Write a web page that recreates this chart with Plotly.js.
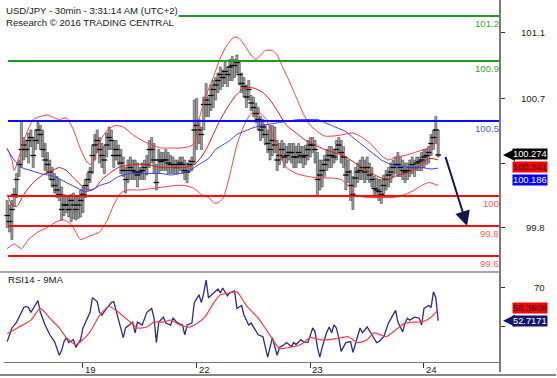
<!DOCTYPE html>
<html><head><meta charset="utf-8">
<script src="https://cdn.plot.ly/plotly-3.0.1.min.js"></script>
<style>html,body{margin:0;padding:0;background:#fff;}#chart{width:557px;height:378px;}</style>
</head><body><div id="chart"></div>
<script>
// ---- 30-min bars (bar index 0 = 18th 08:00) ----
const high = [99.97,99.94,99.97,100.05,100.15,100.24,100.50,100.39,100.37,100.42,
100.44,100.39,100.44,100.49,100.47,100.44,100.35,100.29,100.24,100.19,
100.15,100.13,100.11,100.06,100.01,99.99,99.99,100.01,100.02,99.99,
99.99,100.04,100.06,100.11,100.15,100.19,100.34,100.41,100.44,100.39,
100.35,100.33,100.42,100.46,100.44,100.37,100.37,100.34,100.31,100.26,
100.19,100.24,100.26,100.24,100.24,100.22,100.19,100.22,100.24,100.27,
100.37,100.39,100.35,100.21,100.31,100.29,100.29,100.31,100.29,100.27,
100.26,100.24,100.24,100.26,100.26,100.24,100.22,100.24,100.26,100.64,
100.65,100.51,100.46,100.66,100.75,100.66,100.74,100.77,100.79,100.82,
100.86,100.84,100.89,100.86,100.91,100.93,100.91,100.94,100.89,100.82,
100.79,100.74,100.77,100.67,100.66,100.62,100.59,100.53,100.51,100.47,
100.44,100.47,100.47,100.46,100.37,100.35,100.37,100.35,100.33,100.35,
100.35,100.35,100.33,100.35,100.33,100.33,100.34,100.37,100.39,100.39,
100.37,100.29,100.24,100.24,100.27,100.31,100.33,100.33,100.31,100.37,
100.39,100.37,100.33,100.26,100.24,100.17,100.13,100.19,100.22,100.24,
100.26,100.24,100.26,100.22,100.19,100.13,100.12,100.11,100.11,100.14,
100.17,100.19,100.22,100.24,100.26,100.29,100.26,100.24,100.22,100.22,
100.24,100.26,100.24,100.26,100.26,100.29,100.31,100.31,100.33,100.41,
100.44,100.53,100.44];
const low = [99.79,99.76,99.71,99.93,99.99,100.13,100.19,100.24,100.26,100.22,
100.33,100.19,100.31,100.35,100.31,100.26,100.17,100.15,100.11,100.06,
100.02,99.99,99.97,99.84,99.87,99.89,99.86,99.83,99.85,99.84,
99.85,99.86,99.89,99.99,100.04,100.09,100.15,100.24,100.29,100.22,
100.19,100.15,100.26,100.31,100.31,100.19,100.24,100.21,100.15,100.13,
100.02,100.09,100.11,100.11,100.11,100.06,100.11,100.11,100.11,100.14,
100.19,100.22,100.15,100.04,100.15,100.17,100.17,100.17,100.15,100.15,
100.15,100.15,100.15,100.17,100.15,100.11,100.09,100.16,100.17,100.21,
100.31,100.35,100.31,100.44,100.53,100.53,100.57,100.59,100.64,100.69,
100.71,100.73,100.75,100.73,100.77,100.77,100.79,100.82,100.74,100.69,
100.66,100.59,100.64,100.57,100.53,100.49,100.44,100.37,100.39,100.34,
100.29,100.24,100.27,100.29,100.17,100.21,100.24,100.19,100.22,100.24,
100.22,100.19,100.19,100.22,100.22,100.19,100.21,100.24,100.26,100.29,
100.22,100.01,100.04,100.06,100.13,100.17,100.19,100.19,100.22,100.24,
100.29,100.22,100.19,100.04,100.09,99.97,99.91,100.06,100.09,100.11,
100.11,100.09,100.11,100.09,100.06,99.99,99.99,99.97,99.95,100.01,
100.04,100.06,100.09,100.13,100.15,100.13,100.13,100.11,100.09,100.11,
100.13,100.15,100.13,100.17,100.17,100.17,100.19,100.21,100.22,100.27,
100.31,100.35,100.26];
const close = [99.87,99.83,99.91,100.01,100.11,100.21,100.31,100.34,100.31,100.37,
100.39,100.27,100.37,100.44,100.41,100.31,100.24,100.21,100.16,100.11,
100.07,100.04,100.01,99.91,99.94,99.94,99.91,99.97,99.94,99.91,
99.94,99.97,100.01,100.07,100.11,100.16,100.27,100.34,100.37,100.31,
100.27,100.24,100.34,100.39,100.37,100.27,100.31,100.27,100.22,100.17,
100.11,100.17,100.19,100.17,100.16,100.14,100.16,100.17,100.19,100.21,
100.31,100.31,100.24,100.09,100.24,100.23,100.24,100.24,100.22,100.21,
100.21,100.19,100.21,100.22,100.21,100.17,100.16,100.21,100.23,100.44,
100.47,100.44,100.41,100.61,100.64,100.61,100.67,100.71,100.74,100.77,
100.81,100.79,100.83,100.81,100.86,100.87,100.87,100.89,100.81,100.75,
100.73,100.66,100.71,100.62,100.59,100.55,100.51,100.44,100.46,100.41,
100.35,100.31,100.37,100.34,100.24,100.27,100.31,100.26,100.27,100.29,
100.29,100.26,100.26,100.29,100.27,100.26,100.27,100.31,100.34,100.34,
100.31,100.11,100.14,100.17,100.21,100.24,100.27,100.27,100.26,100.31,
100.34,100.29,100.26,100.14,100.16,100.07,100.01,100.12,100.16,100.17,
100.19,100.16,100.19,100.14,100.11,100.05,100.04,100.03,100.01,100.07,
100.11,100.14,100.16,100.19,100.21,100.21,100.19,100.17,100.16,100.17,
100.19,100.21,100.19,100.22,100.23,100.24,100.26,100.27,100.29,100.35,
100.39,100.44,100.274];

// ---- Bollinger bands and moving average (read at sampled bars) ----
const upperIdx = [0,2,3,4,6,8,11,14,17,20,22,25,28,31,34,36,38,40,43,46,49,53,57,61,65,69,73,77,79,81,84,87,90,93,96,98,100,103,105,107,109,112,114,116,119,122,125,128,131,134,138,142,146,150,154,158,161,164,168,172,176,179,182];
const upperVal = [100.32,100.24,100.17,100.21,100.31,100.41,100.51,100.53,100.54,100.52,100.51,100.52,100.44,100.31,100.22,100.21,100.31,100.39,100.45,100.47,100.46,100.41,100.37,100.34,100.32,100.32,100.32,100.33,100.35,100.51,100.67,100.79,100.92,101.01,101.06,101.05,101.01,100.94,100.91,100.94,100.97,100.97,100.94,100.87,100.77,100.66,100.55,100.47,100.43,100.40,100.40,100.41,100.42,100.39,100.34,100.27,100.24,100.26,100.27,100.29,100.31,100.33,100.39];
const midIdx = [0,2,4,7,11,15,19,22,25,28,32,34,37,40,44,47,53,59,65,70,75,79,81,84,87,90,93,96,100,104,108,111,114,118,122,126,130,134,138,142,146,150,154,158,161,165,170,174,178,182];
const midVal = [100.01,99.94,99.93,100.01,100.09,100.14,100.17,100.19,100.17,100.12,100.06,100.04,100.05,100.11,100.16,100.19,100.21,100.21,100.19,100.19,100.19,100.21,100.24,100.31,100.41,100.51,100.59,100.66,100.72,100.72,100.69,100.64,100.57,100.47,100.42,100.37,100.34,100.31,100.29,100.27,100.23,100.19,100.15,100.12,100.11,100.14,100.16,100.20,100.25,100.241];
const lowerIdx = [0,3,6,9,13,17,21,24,27,31,33,36,39,42,45,48,51,56,61,66,71,75,79,82,85,88,91,94,97,100,103,106,109,112,115,118,122,127,132,137,141,144,147,152,158,163,168,172,175,178,182];
const lowerVal = [99.65,99.68,99.65,99.71,99.76,99.79,99.83,99.84,99.81,99.71,99.72,99.74,99.76,99.83,99.94,100.02,100.04,100.04,100.05,100.06,100.07,100.07,100.05,100.01,99.99,99.95,99.98,100.14,100.34,100.47,100.55,100.56,100.52,100.41,100.27,100.19,100.15,100.13,100.12,100.12,100.11,100.07,100.01,99.99,99.99,99.99,100.01,100.04,100.07,100.09,100.07];
const maIdx = [0,3,6,10,14,20,25,30,33,36,39,43,47,52,57,61,65,69,73,77,79,82,85,88,91,94,97,100,103,107,111,115,119,123,127,131,134,137,140,143,146,150,154,158,162,166,170,175,179,182];
const maVal = [100.31,100.24,100.19,100.17,100.15,100.13,100.09,100.05,100.03,100.04,100.07,100.09,100.13,100.15,100.15,100.15,100.15,100.14,100.15,100.17,100.19,100.22,100.25,100.31,100.34,100.37,100.41,100.43,100.45,100.47,100.48,100.49,100.50,100.51,100.51,100.51,100.49,100.47,100.45,100.43,100.39,100.34,100.29,100.24,100.21,100.20,100.19,100.19,100.18,100.186];

// ---- RSI(14) and its 9-period MA ----
const rsiIdx = [0,2,4,7,8,9,10,11,13,14,16,18,20,22,23,24,25,26,28,29,31,32,34,35,36,38,39,40,42,44,45,47,49,50,53,54,55,57,59,61,62,63,64,66,67,69,70,72,74,75,76,78,79,81,82,83,84,85,87,89,90,91,93,94,96,97,99,100,102,103,106,108,110,111,112,114,115,117,118,120,121,122,124,125,127,129,130,131,132,133,135,136,137,138,139,140,141,143,145,146,148,149,150,152,154,156,157,159,161,163,164,165,167,168,169,170,172,174,175,176,178,179,180,181,182];
const rsiVal = [42,49,52,59.5,60,59.5,57,59,63,57,50.5,45.5,42,35,37.5,42,44,41.5,43,39,43,49,54.5,57,64.5,62.5,57,55.5,59,62,62.5,53,44,49,52,46.5,52,50.5,57,59,54,41.5,52,54.5,51.5,50.5,54,51.5,50.5,45.5,50.5,51.5,62,66,62,67,73.5,64.5,67,69,67,69.5,65.5,67,68,59,60.5,55.5,50.5,51.5,45.5,44.5,34,39,44,35,39,40.5,41.5,39.5,41.5,40.5,43,42,41.5,49,47,39,34,39,47,49.5,46.5,50.5,49,44,37,41.5,42,36.5,44.5,49,46.5,49.5,45.5,41.5,42,44.5,51.5,55.5,58,52,47,51.5,54,53,54.5,54,50.5,59,60.5,59.5,67.5,64.5,52.7171];
const rsiMaIdx = [0,5,10,14,18,22,25,29,32,35,39,43,46,51,55,59,62,66,69,73,77,81,84,87,90,94,97,101,106,110,115,119,124,128,132,136,141,144,148,152,155,160,164,168,171,175,179,182];
const rsiMaVal = [46,49.5,53,59,54,49,44,40.5,43,47,55.5,60,58,53,49,49.5,52,52,53,50.5,49.5,52,55.5,61.5,66,67,67.5,60.5,54,47,38.5,39,40.5,44,43,43,44,44.5,41.5,43,46.5,44.5,48,51.5,52,52,54.5,58.3608];

// ---- axes / ticks / levels ----
const dayTickIdx = [32, 80, 128, 176];
const dayTickText = ["19", "22", "23", "24"];
const priceTickVals = [99.787, 100.22, 100.653, 101.087];   // tick marks
const priceLabelVals = [99.787, 100.653, 101.087];          // visible labels (100.2 is covered by the value tags)
const priceLabelText = ["99.8", "100.7", "101.1"];
const rsiTickVals = [50, 70];
const rsiLabelVals = [70];                                   // 50 is covered by the RSI tag
const rsiLabelText = ["70"];
const levels = [101.2, 100.9, 100.5, 100.0, 99.8, 99.6];
const levelText = ["101.2", "100.9", "100.5", "100", "99.8", "99.6"];
const levelKind = ["g", "g", "b", "r", "r", "r"];
const forecastFrom = {i: 184.9, p: 100.27};
const forecastTo = {i: 194.2, p: 99.80};

const FONT = "Liberation Sans, Arial, sans-serif";
const FS = 9.6;
const TAG_FS = 9.3;
const lineCol = {g: "#1f9c1f", b: "#0c0cff", r: "#ff0c0c"};
const textCol = {g: "#3aa83a", b: "#5656ff", r: "#ff5a5a"};

const barIdx = high.map((_, i) => i);
const traces = [
  {type: "bar", x: barIdx, base: low, y: high.map((h, i) => h - low[i]), width: 0.9,
   marker: {color: "#a2a2a2", line: {color: "#333333", width: 0.5}}, hoverinfo: "skip", xaxis: "x", yaxis: "y"},
  {type: "scatter", mode: "markers", x: barIdx, y: close,
   marker: {symbol: "line-ew", size: 4, line: {color: "#000", width: 1.3}}, hoverinfo: "skip", xaxis: "x", yaxis: "y"},
  {type: "scatter", mode: "lines", x: upperIdx, y: upperVal, line: {color: "#ff3c3c", width: 1, shape: "spline", smoothing: 0.6}, xaxis: "x", yaxis: "y"},
  {type: "scatter", mode: "lines", x: midIdx, y: midVal, line: {color: "#e01818", width: 1, shape: "spline", smoothing: 0.6}, xaxis: "x", yaxis: "y"},
  {type: "scatter", mode: "lines", x: lowerIdx, y: lowerVal, line: {color: "#ff3c3c", width: 1, shape: "spline", smoothing: 0.6}, xaxis: "x", yaxis: "y"},
  {type: "scatter", mode: "lines", x: maIdx, y: maVal, line: {color: "#3c3cff", width: 1, shape: "spline", smoothing: 0.6}, xaxis: "x", yaxis: "y"},
  {type: "scatter", mode: "lines", x: rsiIdx, y: rsiVal, line: {color: "#2a2a92", width: 1.3}, xaxis: "x", yaxis: "y2"},
  {type: "scatter", mode: "lines", x: rsiMaIdx, y: rsiMaVal, line: {color: "#ff3c3c", width: 1.2, shape: "spline", smoothing: 0.6}, xaxis: "x", yaxis: "y2"}
];

const PLOT_L = 4, PLOT_W = 496, PLOT_H = 362;
const px2paperX = px => (px - PLOT_L) / PLOT_W;
const px2paperY = py => 1 - py / PLOT_H;

const shapes = [];
levels.forEach((v, k) => {
  shapes.push({type: "line", xref: "paper", yref: "y", x0: px2paperX(8), x1: 1, y0: v, y1: v,
    line: {color: lineCol[levelKind[k]], width: 2}});
});
shapes.push({type: "line", xref: "paper", yref: "paper", x0: px2paperX(0), x1: 1, y0: px2paperY(272), y1: px2paperY(272), line: {color: "#8a8a8a", width: 1.5}});
shapes.push({type: "line", xref: "paper", yref: "paper", x0: px2paperX(0), x1: px2paperX(556), y0: px2paperY(375), y1: px2paperY(375), line: {color: "#111", width: 1}});
shapes.push({type: "line", xref: "paper", yref: "paper", x0: 1, x1: 1, y0: px2paperY(372), y1: 1, line: {color: "#7a7a7a", width: 2}});

const lastClose = close[close.length - 1];
const lastMid = midVal[midVal.length - 1];
const lastMa = maVal[maVal.length - 1];
const lastRsi = rsiVal[rsiVal.length - 1];
const lastRsiMa = rsiMaVal[rsiMaVal.length - 1];

// pointer triangles of the current-value tags
shapes.push({type: "path", xref: "paper", yref: "y", xsizemode: "pixel", ysizemode: "pixel", xanchor: 1, yanchor: lastClose,
  path: "M 3 0 L 15 6 L 15 -6 Z", fillcolor: "#000", line: {width: 0}});
shapes.push({type: "path", xref: "paper", yref: "y2", xsizemode: "pixel", ysizemode: "pixel", xanchor: 1, yanchor: lastRsi,
  path: "M 3 0 L 15 6 L 15 -6 Z", fillcolor: "#14146e", line: {width: 0}});

const LABEL_X = px2paperX(546);
const TAG_X = px2paperX(548);
const annotations = [];
annotations.push({xref: "paper", yref: "paper", x: px2paperX(5), y: px2paperY(4), xanchor: "left", yanchor: "top", align: "left",
  text: "USD/JPY - 30min - 3:31:14 AM (UTC+2)<br>Research © 2016 TRADING CENTRAL", showarrow: false,
  bgcolor: "#fff", borderpad: 0, font: {family: FONT, size: FS, color: "#1a1a1a"}});
annotations.push({xref: "paper", yref: "paper", x: px2paperX(6), y: px2paperY(279), xanchor: "left", yanchor: "middle",
  text: "RSI14 - 9MA", showarrow: false, font: {family: FONT, size: FS, color: "#1a1a1a"}});
priceLabelVals.forEach((v, k) => annotations.push({xref: "paper", yref: "y", x: LABEL_X, y: v, xanchor: "right", yanchor: "middle",
  text: priceLabelText[k], showarrow: false, borderpad: 0, font: {family: FONT, size: FS, color: "#222"}}));
rsiLabelVals.forEach((v, k) => annotations.push({xref: "paper", yref: "y2", x: LABEL_X, y: v, xanchor: "right", yanchor: "middle",
  text: rsiLabelText[k], showarrow: false, borderpad: 0, font: {family: FONT, size: FS, color: "#222"}}));
dayTickIdx.forEach((v, k) => annotations.push({xref: "x", yref: "paper", x: v, y: px2paperY(369), xanchor: "left", yanchor: "middle", xshift: 1,
  text: dayTickText[k], showarrow: false, borderpad: 0, font: {family: FONT, size: FS, color: "#222"}}));
levels.forEach((v, k) => annotations.push({xref: "paper", yref: "y", x: 1, y: v, xanchor: "right", yanchor: "middle", yshift: -7.5,
  text: levelText[k], showarrow: false, borderpad: 0, font: {family: FONT, size: FS, color: textCol[levelKind[k]]}}));
// current value tags
const tag = (yref, y, yshift, txt, bg, fg) => ({xref: "paper", yref: yref, x: TAG_X, y: y, yshift: yshift, xanchor: "right", yanchor: "middle",
  text: txt, showarrow: false, bgcolor: bg, borderpad: 0, font: {family: FONT, size: TAG_FS, color: fg}});
annotations.push(tag("y", lastMid, -7.5, lastMid.toFixed(3), "#ff0000", "#1a0000"));
annotations.push(tag("y", lastMa, -11.5, lastMa.toFixed(3), "#0000ff", "#ffffff"));
annotations.push(tag("y", lastClose, 0.5, lastClose.toFixed(3), "#000000", "#ffffff"));
annotations.push(tag("y2", lastRsiMa, 2, lastRsiMa.toFixed(4), "#ff0000", "#1a0000"));
annotations.push(tag("y2", lastRsi, -0.5, lastRsi.toFixed(4), "#14146e", "#ffffff"));
// forecast arrow
annotations.push({xref: "x", yref: "y", axref: "x", ayref: "y", x: forecastTo.i, y: forecastTo.p, ax: forecastFrom.i, ay: forecastFrom.p,
  text: "", showarrow: true, arrowhead: 2, arrowsize: 1.5, arrowwidth: 2, arrowcolor: "#10174f"});

const layout = {
  width: 557, height: 378,
  margin: {l: PLOT_L, r: 557 - PLOT_L - PLOT_W, t: 0, b: 378 - PLOT_H, pad: 0},
  paper_bgcolor: "#fff", plot_bgcolor: "#fff",
  showlegend: false, hovermode: false,
  font: {family: FONT, size: FS, color: "#222"},
  xaxis: {range: [-1.35, 208.1], anchor: "y2", showgrid: false, zeroline: false, showline: true, linecolor: "#777", linewidth: 1,
    ticks: "outside", tickmode: "array", tickvals: dayTickIdx, ticklen: 5, tickcolor: "#333", tickwidth: 1, showticklabels: false, fixedrange: true},
  yaxis: {domain: [px2paperY(271), 1], range: [99.5, 101.3067], side: "right", anchor: "x", showgrid: false, zeroline: false, showline: false,
    ticks: "outside", tickmode: "array", tickvals: priceTickVals, ticklen: 4, tickcolor: "#333", tickwidth: 1, showticklabels: false, fixedrange: true},
  yaxis2: {domain: [0, px2paperY(272)], range: [31.54, 77.69], side: "right", anchor: "x", showgrid: false, zeroline: false, showline: false,
    ticks: "outside", tickmode: "array", tickvals: rsiTickVals, ticklen: 4, tickcolor: "#333", tickwidth: 1, showticklabels: false, fixedrange: true},
  shapes: shapes,
  annotations: annotations
};

Plotly.newPlot("chart", traces, layout, {staticPlot: true, displayModeBar: false});
</script>
</body></html>
